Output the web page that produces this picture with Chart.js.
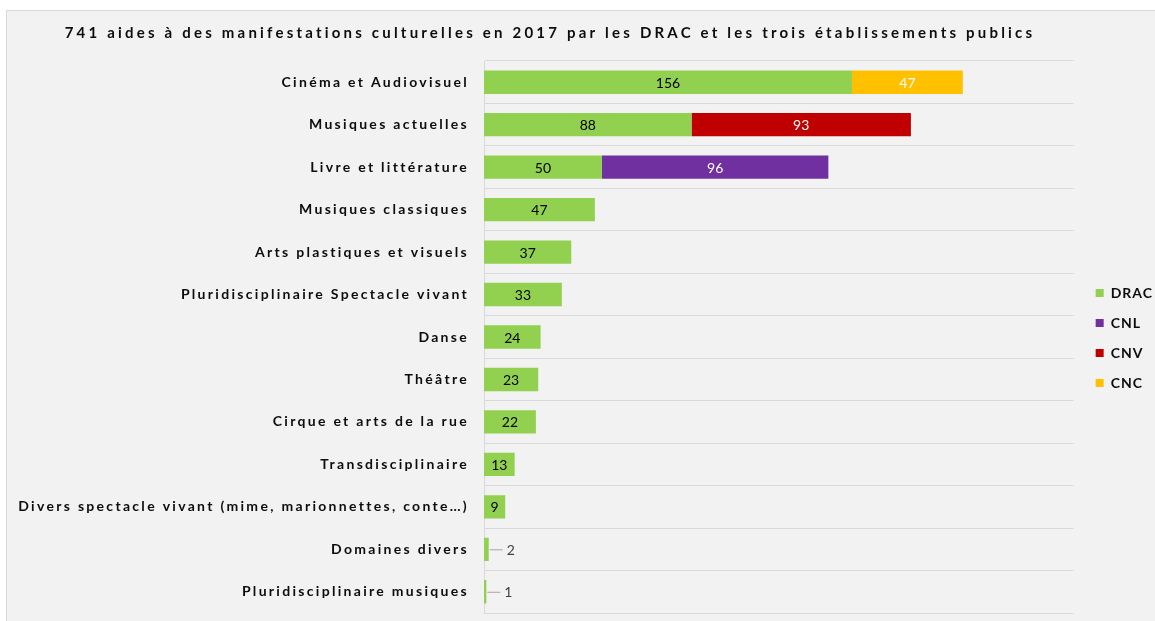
<!DOCTYPE html>
<html>
<head>
<meta charset="utf-8">
<script src="https://cdn.jsdelivr.net/npm/chart.js@4/dist/chart.umd.min.js"></script>
<style>
  body { margin: 0; background: #fff; overflow: hidden; }
  #frame {
    position: absolute; left: 6px; top: 10px;
    width: 1160px; height: 620px;
    background: #f2f2f2; border: 1px solid #d9d9d9;
  }
</style>
</head>
<body>
<div id="frame"><canvas id="chart" width="1148" height="610"></canvas></div>
<script>
// data
const categories = [
  'Cinéma et Audiovisuel', 'Musiques actuelles', 'Livre et littérature',
  'Musiques classiques', 'Arts plastiques et visuels',
  'Pluridisciplinaire Spectacle vivant', 'Danse', 'Théâtre',
  'Cirque et arts de la rue', 'Transdisciplinaire',
  'Divers spectacle vivant (mime, marionnettes, conte…)',
  'Domaines divers', 'Pluridisciplinaire musiques'
];
const drac = [156, 88, 50, 47, 37, 33, 24, 23, 22, 13, 9, 2, 1];
const cnl = [null, null, 96, null, null, null, null, null, null, null, null, null, null];
const cnv = [null, 93, null, null, null, null, null, null, null, null, null, null, null];
const cnc = [47, null, null, null, null, null, null, null, null, null, null, null, null];

const FONT = 'Lato, "Open Sans", sans-serif';

// wrap a box method so it runs with its own letter spacing
function spaced(obj, name, sp) {
  const orig = obj[name];
  obj[name] = function () {
    const ctx = this.ctx;
    const prev = ctx.letterSpacing;
    ctx.letterSpacing = sp;
    const r = orig.apply(this, arguments);
    ctx.letterSpacing = prev;
    return r;
  };
}

// spaced-out Calibri look for axis labels, title, legend
const spacing = {
  id: 'spacing',
  beforeUpdate(chart) {
    chart.ctx.letterSpacing = '2.3px';
    if (!chart._spacedDone) {
      spaced(chart.titleBlock, 'draw', '3.2px');
      spaced(chart.legend, 'fit', '1px');
      spaced(chart.legend, 'draw', '1px');
      chart._spacedDone = true;
    }
  },
  beforeDraw(chart) { chart.ctx.letterSpacing = '2.3px'; },
  afterLayout(chart) {
    const lg = chart.legend;
    lg.left += 6; lg.right += 6;
    lg.top += 26; lg.bottom += 26;
    const t = chart.titleBlock;
    t.left -= 32; t.right -= 32;
  }
};

// value labels, small ones pushed outside with a leader line
const valueLabels = {
  id: 'valueLabels',
  afterDatasetsDraw(chart) {
    const ctx = chart.ctx;
    ctx.save();
    ctx.letterSpacing = '0px';
    ctx.font = '14px ' + FONT;
    ctx.textBaseline = 'middle';
    chart.data.datasets.forEach((ds, di) => {
      const meta = chart.getDatasetMeta(di);
      meta.data.forEach((bar, i) => {
        const v = ds.data[i];
        if (v == null) return;
        const w = bar.x - bar.base;
        if (w > 18) {
          ctx.fillStyle = ds.labelColor;
          ctx.textAlign = 'center';
          ctx.fillText(String(v), bar.base + w / 2, bar.y + 1);
        } else {
          ctx.strokeStyle = '#a6a6a6';
          ctx.lineWidth = 1;
          ctx.beginPath();
          ctx.moveTo(bar.x + 1, bar.y + 0.5);
          ctx.lineTo(bar.x + 14, bar.y + 0.5);
          ctx.stroke();
          ctx.fillStyle = '#404040';
          ctx.textAlign = 'left';
          ctx.fillText(String(v), bar.x + 18, bar.y + 1);
        }
      });
    });
    ctx.restore();
  }
};

new Chart(document.getElementById('chart').getContext('2d'), {
  type: 'bar',
  data: {
    labels: categories,
    datasets: [
      { label: 'DRAC', data: drac, backgroundColor: '#92d050', labelColor: '#000' },
      { label: 'CNL', data: cnl, backgroundColor: '#7030a0', labelColor: '#fff' },
      { label: 'CNV', data: cnv, backgroundColor: '#c00000', labelColor: '#fff' },
      { label: 'CNC', data: cnc, backgroundColor: '#ffc000', labelColor: '#fff' }
    ]
  },
  options: {
    indexAxis: 'y',
    responsive: false,
    animation: false,
    datasets: { bar: { categoryPercentage: 1, barPercentage: 0.55 } },
    layout: { padding: { left: 0, right: -2, top: 0, bottom: 8 } },
    scales: {
      x: { stacked: true, min: 0, max: 250, display: false },
      y: {
        stacked: true,
        afterFit(scale) {
          scale.width = 477;
          scale.paddingTop = 0;
          scale.paddingBottom = 0;
        },
        grid: { offset: true, color: '#d9d9d9', drawTicks: false },
        border: { color: '#d9d9d9' },
        ticks: { padding: 15, color: '#0d0d0d', font: { family: FONT, size: 14, weight: 'bold' } }
      }
    },
    plugins: {
      title: {
        display: true,
        text: '741 aides à des manifestations culturelles en 2017 par les DRAC et les trois établissements publics',
        color: '#0d0d0d',
        font: { family: FONT, size: 15, weight: 'bold' },
        padding: { top: 13, bottom: 19 }
      },
      legend: {
        position: 'right',
        labels: {
          boxWidth: 8, boxHeight: 8, padding: 16,
          color: '#0d0d0d',
          font: { family: FONT, size: 14, weight: 'bold' }
        }
      },
      tooltip: { enabled: false }
    }
  },
  plugins: [spacing, valueLabels]
});
</script>
</body>
</html>
